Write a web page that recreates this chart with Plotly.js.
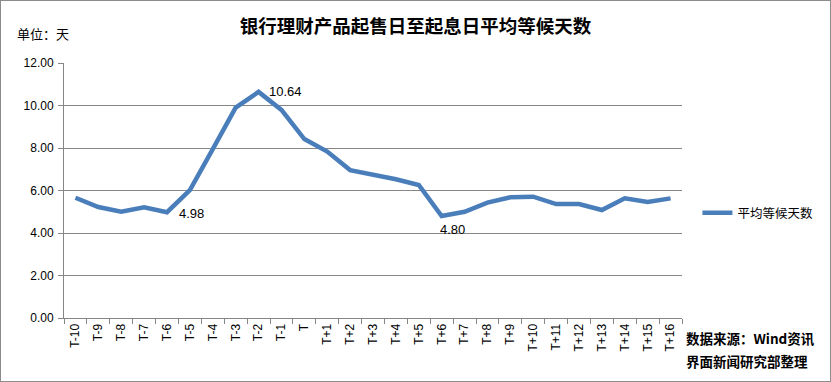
<!DOCTYPE html>
<html><head><meta charset="utf-8">
<script src="https://cdn.plot.ly/plotly-3.0.1.min.js"></script>
<style>
html,body{margin:0;padding:0;background:#fff;}
#wrap{width:831px;height:382px;box-sizing:border-box;border:1px solid #8c8c8c;}
#chart{width:829px;height:380px;}
</style></head>
<body><div id="wrap"><div id="chart"></div></div>
<script>
const categories = ["T-10","T-9","T-8","T-7","T-6","T-5","T-4","T-3","T-2","T-1","T","T+1","T+2","T+3","T+4","T+5","T+6","T+7","T+8","T+9","T+10","T+11","T+12","T+13","T+14","T+15","T+16"];
const waitDays = [5.66,5.22,5.00,5.21,4.98,6.02,7.95,9.90,10.64,9.79,8.42,7.83,6.96,6.76,6.53,6.26,4.80,5.00,5.43,5.68,5.71,5.36,5.36,5.08,5.63,5.46,5.63];
const seriesName = "平均等候天数";
const labelled = [{cat:"T-6", val:4.98, dx:10, dy:1, xa:"left"}, {cat:"T-2", val:10.64, dx:8, dy:0, xa:"left"}, {cat:"T+6", val:4.80, dx:-4, dy:13, xa:"left"}];

const cjk = '"Noto Sans CJK SC", "Microsoft YaHei", sans-serif';
const lat = '"Liberation Sans", Arial, sans-serif';

const trace = {
  x: categories, y: waitDays, name: seriesName, type: 'scatter', mode: 'lines',
  line: {color: '#4a7ebb', width: 4.5}
};
const anns = labelled.map(a => ({
  x: a.cat, y: a.val, xref: 'x', yref: 'y', text: a.val.toFixed(2), showarrow: false,
  xanchor: a.xa, yanchor: 'middle', xshift: a.dx, yshift: -a.dy,
  font: {family: lat, size: 13, color: '#000'}
}));
const extra = [
  {text:'单位：天', x:14, y:33, size:13, bold:false},
  {text:'数据来源：Wind资讯', x:687, y:337, size:13.5, bold:true},
  {text:'界面新闻研究部整理', x:687, y:360, size:13.5, bold:true}
];
const W = 829, H = 380, L = 63, R = 144, T = 62, B = 63;
extra.forEach(e => anns.push({
  xref:'paper', yref:'paper', x:(e.x - L)/(W - L - R), y:(H - B - e.y)/(H - T - B),
  xanchor:'left', yanchor:'middle', showarrow:false,
  text: e.bold ? '<b>'+e.text+'</b>' : e.text,
  font:{family:cjk, size:e.size, color:'#000'}
}));

const layout = {
  width: W, height: H,
  margin: {l: L, r: R, t: T, b: B},
  paper_bgcolor: '#fff', plot_bgcolor: '#fff',
  title: {text: '<b>银行理财产品起售日至起息日平均等候天数</b>', x: 0.5, xanchor: 'center', y: 0.95,
          font: {family: cjk, size: 18.5, color: '#000'}},
  showlegend: true,
  legend: {x: 1.025, y: (H - B - 212)/(H - T - B), xanchor: 'left', yanchor: 'middle', font: {family: cjk, size: 12.5, color: '#000'}, bgcolor: 'rgba(0,0,0,0)'},
  xaxis: {
    type: 'category', tickangle: -90, tickfont: {family: lat, size: 12, color: '#000'},
    showline: true, linecolor: '#868686', linewidth: 1, ticks: 'outside', ticklen: 5, tickcolor: '#868686',
    tickson: 'boundaries', showgrid: false, range: [-0.5, categories.length - 0.5]
  },
  yaxis: {
    range: [0, 12], dtick: 2, tickformat: '.2f', tickfont: {family: lat, size: 12, color: '#000'},
    showline: true, linecolor: '#868686', linewidth: 1, ticks: 'outside', ticklen: 5, tickcolor: '#868686',
    showgrid: true, gridcolor: '#868686', gridwidth: 1, zeroline: false, ticklabelstandoff: 2
  },
  annotations: anns
};
Plotly.newPlot('chart', [trace], layout, {displayModeBar: false, staticPlot: true});
</script></body></html>
